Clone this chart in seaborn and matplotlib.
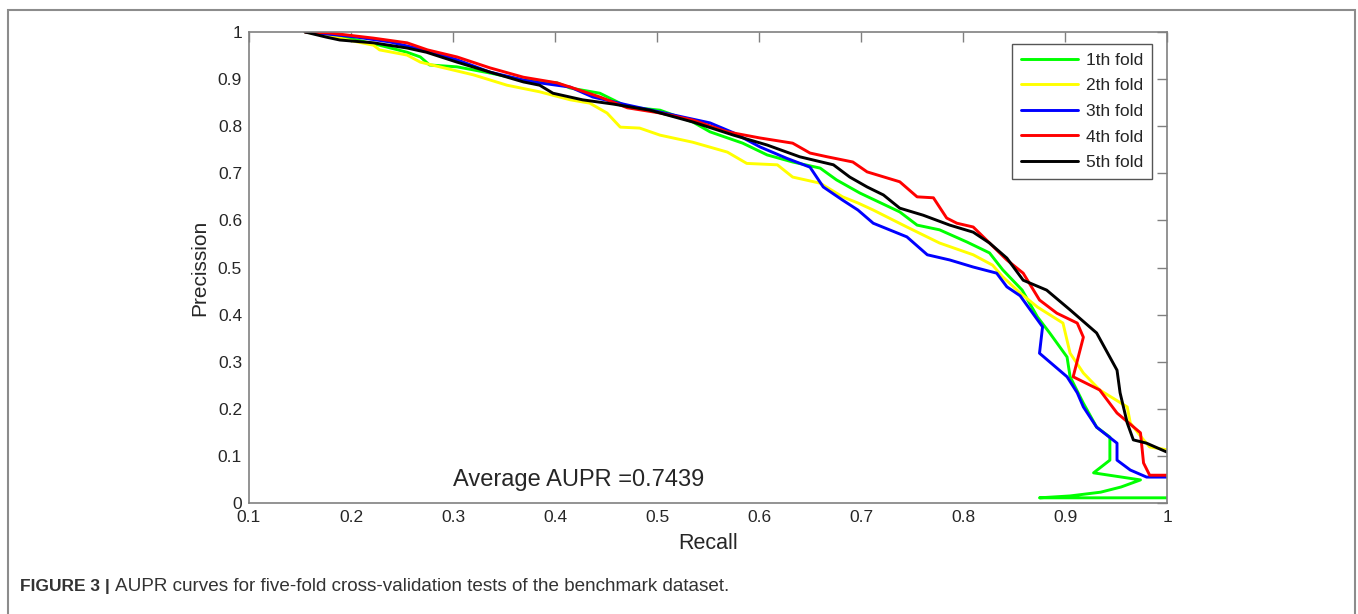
import matplotlib
matplotlib.use("Agg")
import matplotlib.pyplot as plt
import matplotlib.patches as mpatches
import pandas as pd
import seaborn as sns

FOLDS = ["1th fold", "2th fold", "3th fold", "4th fold", "5th fold"]
COLORS = ["#00ff00", "#ffff00", "#0000ff", "#ff0000", "#000000"]

# values (recall, precision)
RECALL_1 = [0.155, 0.170, 0.206, 0.228, 0.255, 0.268, 0.277, 0.304, 0.336, 0.369, 0.402,
            0.415, 0.444, 0.471, 0.503, 0.535, 0.552, 0.584, 0.608, 0.633, 0.660, 0.676,
            0.699, 0.738, 0.755, 0.777, 0.804, 0.826, 0.839, 0.858, 0.873, 0.885, 0.902,
            0.905, 0.918, 0.931, 0.944, 0.944, 0.928, 0.974, 0.955, 0.935, 0.905, 0.875, 1.0]
PREC_1 = [1.0, 0.996, 0.983, 0.972, 0.957, 0.947, 0.930, 0.926, 0.913, 0.898, 0.892,
          0.881, 0.870, 0.841, 0.834, 0.809, 0.788, 0.764, 0.739, 0.724, 0.711, 0.686,
          0.658, 0.618, 0.590, 0.580, 0.554, 0.531, 0.495, 0.452, 0.395, 0.361, 0.310,
          0.268, 0.212, 0.161, 0.140, 0.091, 0.064, 0.049, 0.034, 0.023, 0.015, 0.011, 0.011]

RECALL_2 = [0.155, 0.180, 0.206, 0.222, 0.228, 0.255, 0.268, 0.287, 0.320, 0.353, 0.385,
            0.415, 0.434, 0.451, 0.464, 0.483, 0.503, 0.535, 0.569, 0.588, 0.618, 0.633,
            0.660, 0.682, 0.697, 0.712, 0.745, 0.777, 0.810, 0.829, 0.839, 0.856, 0.873,
            0.898, 0.905, 0.918, 0.934, 0.961, 0.964, 0.977, 0.983, 1.0]
PREC_2 = [1.0, 0.991, 0.979, 0.972, 0.962, 0.951, 0.936, 0.926, 0.909, 0.887, 0.873,
          0.856, 0.849, 0.828, 0.798, 0.796, 0.781, 0.766, 0.745, 0.721, 0.718, 0.692,
          0.679, 0.650, 0.637, 0.622, 0.586, 0.552, 0.527, 0.505, 0.480, 0.446, 0.416,
          0.382, 0.318, 0.276, 0.240, 0.204, 0.170, 0.134, 0.119, 0.113]

RECALL_3 = [0.155, 0.180, 0.206, 0.238, 0.271, 0.304, 0.336, 0.369, 0.385, 0.415, 0.437,
            0.471, 0.503, 0.552, 0.575, 0.601, 0.627, 0.650, 0.663, 0.682, 0.697, 0.712,
            0.745, 0.765, 0.787, 0.810, 0.833, 0.843, 0.856, 0.878, 0.875, 0.902, 0.912,
            0.918, 0.931, 0.951, 0.951, 0.964, 0.980, 1.0]
PREC_3 = [1.0, 0.995, 0.989, 0.979, 0.962, 0.941, 0.915, 0.898, 0.892, 0.883, 0.862,
          0.845, 0.830, 0.807, 0.786, 0.756, 0.732, 0.713, 0.671, 0.643, 0.622, 0.594,
          0.565, 0.527, 0.516, 0.501, 0.488, 0.459, 0.440, 0.374, 0.318, 0.268, 0.234,
          0.204, 0.161, 0.127, 0.091, 0.070, 0.055, 0.055]

RECALL_4 = [0.155, 0.179, 0.222, 0.255, 0.275, 0.304, 0.336, 0.369, 0.402, 0.415, 0.444,
            0.471, 0.503, 0.535, 0.569, 0.601, 0.633, 0.650, 0.667, 0.692, 0.706, 0.738,
            0.755, 0.771, 0.784, 0.794, 0.810, 0.826, 0.843, 0.859, 0.875, 0.892, 0.912,
            0.918, 0.908, 0.934, 0.951, 0.974, 0.977, 0.983, 1.0]
PREC_4 = [1.0, 0.998, 0.987, 0.977, 0.962, 0.947, 0.924, 0.904, 0.892, 0.883, 0.862,
          0.839, 0.828, 0.813, 0.788, 0.775, 0.764, 0.743, 0.735, 0.724, 0.703, 0.682,
          0.650, 0.648, 0.605, 0.594, 0.586, 0.552, 0.516, 0.488, 0.431, 0.403, 0.382,
          0.352, 0.268, 0.240, 0.191, 0.149, 0.085, 0.059, 0.059]

RECALL_5 = [0.155, 0.176, 0.189, 0.222, 0.255, 0.274, 0.304, 0.336, 0.369, 0.385, 0.398,
            0.427, 0.457, 0.493, 0.535, 0.575, 0.608, 0.640, 0.673, 0.689, 0.706, 0.722,
            0.738, 0.761, 0.787, 0.810, 0.826, 0.843, 0.859, 0.882, 0.905, 0.931, 0.951,
            0.954, 0.961, 0.967, 0.980, 1.0]
PREC_5 = [1.0, 0.989, 0.983, 0.977, 0.966, 0.957, 0.936, 0.915, 0.894, 0.887, 0.870,
          0.856, 0.847, 0.834, 0.809, 0.781, 0.760, 0.735, 0.718, 0.692, 0.671, 0.654,
          0.626, 0.611, 0.590, 0.575, 0.552, 0.520, 0.473, 0.452, 0.410, 0.361, 0.282,
          0.234, 0.170, 0.134, 0.127, 0.108]

X_TICKS = [0.1, 0.2, 0.3, 0.4, 0.5, 0.6, 0.7, 0.8, 0.9, 1.0]
X_TICK_LABELS = ["0.1", "0.2", "0.3", "0.4", "0.5", "0.6", "0.7", "0.8", "0.9", "1"]
Y_TICKS = [0.0, 0.1, 0.2, 0.3, 0.4, 0.5, 0.6, 0.7, 0.8, 0.9, 1.0]
Y_TICK_LABELS = ["0", "0.1", "0.2", "0.3", "0.4", "0.5", "0.6", "0.7", "0.8", "0.9", "1"]
AVG_AUPR = "Average AUPR =0.7439"
CAPTION_BOLD = "FIGURE 3 |"
CAPTION = "AUPR curves for five-fold cross-validation tests of the benchmark dataset."


def build_frame() -> pd.DataFrame:
    parts = []
    series = [(RECALL_1, PREC_1), (RECALL_2, PREC_2), (RECALL_3, PREC_3),
              (RECALL_4, PREC_4), (RECALL_5, PREC_5)]
    for name, (rec, prec) in zip(FOLDS, series):
        df = pd.DataFrame({"recall": rec, "precision": prec})
        df["fold"] = name
        parts.append(df)
    return pd.concat(parts, ignore_index=True)


def main() -> None:
    sns.set_theme(style="white")
    plt.rcParams["font.family"] = ["Liberation Sans", "DejaVu Sans"]

    data = build_frame()
    fig = plt.figure(figsize=(13.58, 6.14), dpi=100)
    ax = fig.add_axes([249 / 1358, 1 - 503 / 614, 918 / 1358, 471 / 614])

    sns.lineplot(
        data=data,
        x="recall",
        y="precision",
        hue="fold",
        hue_order=FOLDS,
        palette=dict(zip(FOLDS, COLORS)),
        units="fold",
        estimator=None,
        sort=False,
        linewidth=2.1,
        ax=ax,
    )

    ax.set_xlim(0.1, 1.0)
    ax.set_ylim(0.0, 1.0)
    ax.set_xticks(X_TICKS, X_TICK_LABELS)
    ax.set_yticks(Y_TICKS, Y_TICK_LABELS)
    ax.tick_params(direction="in", length=7, width=1, color="#808080",
                   labelsize=12.5, top=True, right=True, pad=5)
    for spine in ax.spines.values():
        spine.set_color("#808080")
        spine.set_linewidth(1.2)
    ax.set_xlabel("Recall", fontsize=15.5, labelpad=6)
    ax.set_ylabel("Precission", fontsize=15, labelpad=6)

    ax.text(0.30, 0.049, AVG_AUPR, fontsize=17, va="center", ha="left")

    handles, labels = ax.get_legend_handles_labels()
    leg = ax.legend(handles, labels, loc="upper right", bbox_to_anchor=(0.9837, 0.9745),
                    fontsize=12.5, frameon=True, fancybox=False, framealpha=1,
                    handlelength=3.3, handletextpad=0.45, labelspacing=0.6,
                    borderpad=0.5, borderaxespad=0)
    leg.get_frame().set_edgecolor("#555555")
    leg.get_frame().set_linewidth(1.0)

    # caption and outer frame
    border = mpatches.Rectangle((8 / 1358, -0.05), 1347 / 1358, 1.05 - 10 / 614,
                                transform=fig.transFigure, fill=False,
                                edgecolor="#8c8c8c", linewidth=1.5)
    fig.patches.append(border)
    cap_y = 1 - 591 / 614
    bold = fig.text(20 / 1358, cap_y, CAPTION_BOLD, fontsize=12.5, fontweight="bold",
                    color="#333333", va="baseline")
    renderer = fig.canvas.get_renderer()
    bb = bold.get_window_extent(renderer=renderer)
    fig.text(bb.x1 / 1358 + 5 / 1358, cap_y, CAPTION, fontsize=13.6,
             color="#333333", va="baseline")

    fig.savefig("out.png", dpi=100)
    plt.close(fig)


if __name__ == "__main__":
    main()
